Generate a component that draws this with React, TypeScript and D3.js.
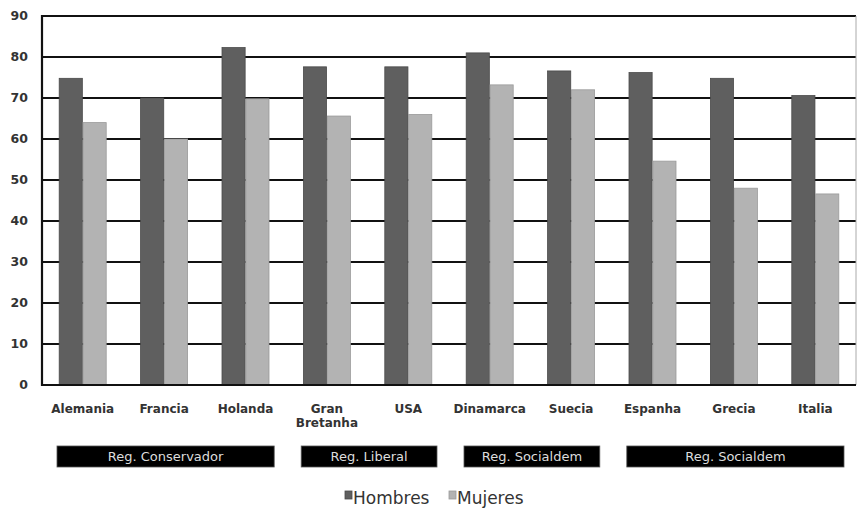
import React from "react";
import * as d3 from "d3";

const categories = ["Alemania", "Francia", "Holanda", "Gran Bretanha", "USA", "Dinamarca", "Suecia", "Espanha", "Grecia", "Italia"];
const hombres = [74.8, 70, 82.3, 77.6, 77.6, 81, 76.6, 76.2, 74.8, 70.6];
const mujeres = [64, 60, 69.8, 65.6, 66, 73.2, 72, 54.6, 48, 46.6];
const seriesNames = ["Hombres", "Mujeres"];
const yTicks = [0, 10, 20, 30, 40, 50, 60, 70, 80, 90];
const regimes = [
  { label: "Reg. Conservador", from: "Alemania", to: "Holanda" },
  { label: "Reg. Liberal", from: "Gran Bretanha", to: "USA" },
  { label: "Reg. Socialdem", from: "Dinamarca", to: "Suecia" },
  { label: "Reg. Socialdem", from: "Espanha", to: "Italia" },
];

const W = 857;
const H = 509;
const left = 42;
const right = 856;
const top = 16;
const bottom = 385;
const colors = ["#5f5f5f", "#b3b3b3"];
const strokes = ["#4a4a4a", "#9a9a9a"];
const font = "'DejaVu Sans', Verdana, sans-serif";

export default function App() {
  const x0 = d3.scaleBand<string>().domain(categories).range([left, right]).padding(0);
  const y = d3.scaleLinear().domain([0, 90]).range([bottom, top]);
  const x1 = d3.scaleBand<string>().domain(seriesNames).range([-23.5, 23.5]).paddingInner(0.03);
  const values = [hombres, mujeres];

  return (
    <svg width={W} height={H} style={{ position: "absolute", left: 0, top: 0 }} fontFamily={font}>
      <rect x={0} y={0} width={W} height={H} fill="#fff" />
      {/* gridlines */}
      {yTicks.map((t) => (
        <line key={"g" + t} x1={left} x2={right} y1={y(t)} y2={y(t)} stroke="#111" strokeWidth={2.2} />
      ))}
      <line x1={right} x2={right} y1={top} y2={bottom} stroke="#aaa" strokeWidth={1} />
      {/* bars */}
      {categories.map((c, i) => {
        const cx = (x0(c) as number) + x0.bandwidth() / 2;
        return seriesNames.map((s, k) => (
          <rect
            key={c + s}
            x={cx + (x1(s) as number)}
            y={y(values[k][i])}
            width={x1.bandwidth()}
            height={y(0) - y(values[k][i])}
            fill={colors[k]}
            stroke={strokes[k]}
            strokeWidth={0.8}
          />
        ));
      })}
      {/* axes */}
      <line x1={left} x2={left} y1={top - 1} y2={bottom + 1} stroke="#111" strokeWidth={2.2} />
      <line x1={left} x2={right} y1={bottom} y2={bottom} stroke="#111" strokeWidth={2.2} />
      {yTicks.map((t) => (
        <text key={"t" + t} x={28} y={y(t)} dy="0.35em" textAnchor="end" fontSize={12.5} fontWeight="bold" fill="#333">
          {t}
        </text>
      ))}
      {categories.map((c) => {
        const cx = (x0(c) as number) + x0.bandwidth() / 2;
        const words = c === "Gran Bretanha" ? ["Gran", "Bretanha"] : [c];
        return (
          <text key={"x" + c} x={cx} y={413} textAnchor="middle" fontSize={12} fontWeight="bold" fill="#333">
            {words.map((w, j) => (
              <tspan key={w} x={cx} dy={j === 0 ? 0 : 14}>
                {w}
              </tspan>
            ))}
          </text>
        );
      })}
      {/* regime boxes */}
      {regimes.map((r, i) => {
        const x = (x0(r.from) as number) + 15;
        const x2 = (x0(r.to) as number) + x0.bandwidth() - 12;
        return (
          <g key={"r" + i}>
            <rect x={x} y={446} width={x2 - x} height={21} fill="#000" stroke="#555" strokeWidth={0.8} />
            <text x={(x + x2) / 2} y={460.5} textAnchor="middle" fontSize={13} fill="#ddd">
              {r.label}
            </text>
          </g>
        );
      })}
      {/* legend */}
      {seriesNames.map((s, k) => {
        const lx = k === 0 ? 345 : 449;
        return (
          <g key={"l" + s}>
            <rect x={lx} y={491} width={7} height={8} fill={colors[k]} stroke={strokes[k]} strokeWidth={0.8} />
            <text x={lx + 8} y={504} fontSize={17} fill="#333">
              {s}
            </text>
          </g>
        );
      })}
    </svg>
  );
}
